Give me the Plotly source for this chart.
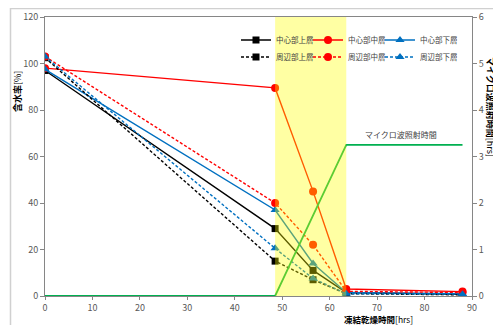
import plotly.graph_objects as go

# ---- data ----
times = [0, 48.5, 56.5, 63.5, 88]
center_top = [97, 29, 11, 1.5, 0.7]      # 中心部上層
center_mid = [98, 89.5, 45, 3, 1.9]      # 中心部中層
center_bot = [97.5, 37, 14, 1.5, 1.0]    # 中心部下層
edge_top = [102.5, 15, 7, 1.0, 0.5]      # 周辺部上層
edge_mid = [103, 40, 22, 2.0, 1.5]       # 周辺部中層
edge_bot = [103, 20.5, 7.5, 1.0, 0.8]    # 周辺部下層

mw_times = [0, 48.5, 63.5, 88]
mw_hours = [0, 0, 3.25, 3.25]            # マイクロ波照射時間

band = [48.5, 63.5]

FONT = "Noto Sans CJK JP"
BLACK = "#000000"
RED = "#FF0000"
BLUE = "#0070C0"
GREEN = "#00B050"

# page has an 8px body margin; layout positions below are in screenshot pixels
OFF = 8
PL, PR, PT, PB = 45, 472, 17, 296   # plot area edges in screenshot pixels
W, H = 501 - OFF, 325 - OFF


def px(xs):
    return (xs - PL) / (PR - PL)


def py(ys):
    return (PB - ys) / (PB - PT)


fig = go.Figure()

fig.add_trace(go.Scatter(
    x=mw_times, y=mw_hours, yaxis="y2", mode="lines",
    line=dict(color=GREEN, width=1.8), showlegend=False, name="マイクロ波照射時間"))

series = [
    ("中心部上層", center_top, BLACK, "solid", "square", 7, "legend", 27),
    ("中心部中層", center_mid, RED, "solid", "circle", 8, "legend", 27),
    ("中心部下層", center_bot, BLUE, "solid", "triangle-up", 8, "legend", 45),
    ("周辺部上層", edge_top, BLACK, "3px,2px", "square", 7, "legend2", 27),
    ("周辺部中層", edge_mid, RED, "3px,2px", "circle", 8, "legend2", 27),
    ("周辺部下層", edge_bot, BLUE, "3px,2px", "triangle-up", 8, "legend2", 45),
]
for name, vals, col, dash, sym, ms, lg, lw in series:
    fig.add_trace(go.Scatter(
        x=times, y=vals, mode="lines+markers", name=name, legend=lg, legendwidth=lw,
        line=dict(color=col, width=1.4, dash=dash),
        marker=dict(symbol=sym, size=ms, color=col)))

# yellow band (drawn over the lines, semi-transparent)
fig.add_shape(type="rect", xref="x", yref="paper", x0=band[0], x1=band[1], y0=0, y1=1,
              fillcolor="rgba(255,255,0,0.36)", line=dict(width=0), layer="above")

# outer chart frame
fig.add_shape(type="rect", xref="paper", yref="paper",
              x0=px(10.5), x1=px(499.5), y0=py(340), y1=py(8.5),
              line=dict(color="#D0D0D0", width=1.5), fillcolor="rgba(0,0,0,0)", layer="below")

tickfont = dict(family=FONT, size=9, color="#595959")
axcol = "#868686"

legend_common = dict(orientation="h", xanchor="left", yanchor="middle",
                     font=dict(family=FONT, size=7.5, color="#404040"),
                     bgcolor="rgba(0,0,0,0)", entrywidthmode="pixels",
                     itemwidth=30, tracegroupgap=0)

fig.update_layout(
    width=W, height=H,
    margin=dict(l=PL - OFF, r=W - (PR - OFF), t=PT - OFF, b=H - (PB - OFF), autoexpand=False),
    paper_bgcolor="white", plot_bgcolor="white",
    font=dict(family=FONT),
    xaxis=dict(range=[0, 90], dtick=10, tick0=0, showgrid=False, zeroline=False,
               showline=True, linecolor=axcol, linewidth=1, mirror=True, automargin=False,
               ticks="outside", ticklen=3, tickcolor=axcol, tickfont=tickfont),
    yaxis=dict(range=[0, 120], dtick=20, showgrid=False, zeroline=False, automargin=False,
               showline=True, linecolor=axcol, linewidth=1,
               ticks="outside", ticklen=4, tickcolor=axcol, tickfont=tickfont),
    yaxis2=dict(range=[0, 6], dtick=1, overlaying="y", side="right", showgrid=False,
                zeroline=False, showline=True, linecolor=axcol, linewidth=1, automargin=False,
                ticks="outside", ticklen=4, tickcolor=axcol, tickfont=tickfont),
    legend=dict(x=px(236), y=py(40), **legend_common),
    legend2=dict(x=px(236), y=py(57), **legend_common),
    showlegend=True,
)

titlefont = dict(family=FONT, size=9, color="#000000")
fig.add_annotation(text="<b>含水率</b>[%]", xref="paper", yref="paper",
                   x=px(17), y=py(92), textangle=-90, xanchor="center", yanchor="middle",
                   showarrow=False, font=titlefont)
fig.add_annotation(text="<b>マイクロ波照射時間</b>[hrs]", xref="paper", yref="paper",
                   x=px(491), y=py(107), textangle=90, xanchor="center", yanchor="middle",
                   showarrow=False, font=titlefont)
fig.add_annotation(text="<b>凍結乾燥時間</b>[hrs]", xref="paper", yref="paper",
                   x=px(378), y=py(319), xanchor="center", yanchor="middle", borderpad=0,
                   showarrow=False, font=dict(family=FONT, size=8.5, color="#000000"))
fig.add_annotation(text="マイクロ波照射時間", xref="x", yref="y2", x=75, y=3.25,
                   yanchor="bottom", yshift=3, showarrow=False,
                   font=dict(family=FONT, size=8, color="#404040"))

fig.write_html("out.html")
